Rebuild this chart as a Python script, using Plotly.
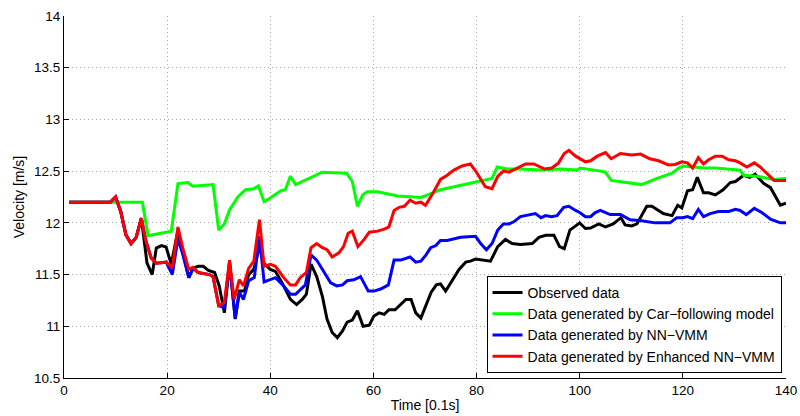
import plotly.graph_objects as go

# ---------------- data ----------------
t_obs = [1, 9, 10, 11, 12, 13, 14, 15, 16.1, 17.1, 17.9, 18.9, 19.8, 20.8, 22.1, 23, 24.2, 25, 26, 27, 28,
         29.2, 30.1, 31.1, 32.1, 33.2, 34, 35, 35.8, 36.8, 37.9, 38.8, 40, 41, 42.3, 43.9, 45.1, 46.2, 47,
         47.9, 49, 50.1, 51, 52, 53, 54, 54.9, 55.9, 56.9, 58, 59.2, 60.1, 61.1, 62.1, 63, 64.2, 65.2, 66.3,
         67.3, 68.2, 69.2, 70.2, 71.2, 72.2, 73, 74, 75.3, 76.6, 77.9, 78.8, 79.8, 81.1, 82.7, 84.1, 85.6,
         86.9, 88.5, 90.8, 92.1, 93.4, 95, 96.1, 97, 98.1, 100, 101.1, 102.1, 103.7, 105, 106.5, 108, 108.8,
         110.1, 111.1, 112, 113, 114, 115, 116.2, 117.9, 119, 119.8, 120.9, 121.9, 122.8, 124, 125, 126.3,
         127.8, 129.2, 130.2, 131.8, 133, 134, 135.7, 137, 138, 138.9, 140]
v_obs = [12.2, 12.2, 12.25, 12.11, 11.885, 11.8, 11.86, 12.045, 11.61, 11.5, 11.756, 11.78, 11.766, 11.6,
         11.93, 11.74, 11.47, 11.56, 11.58, 11.58, 11.54, 11.52, 11.39, 11.13, 11.61, 11.07, 11.34, 11.34,
         11.5, 11.55, 11.77, 11.61, 11.55, 11.53, 11.42, 11.26, 11.21, 11.26, 11.31, 11.6, 11.48, 11.29,
         11.07, 10.94, 10.89, 10.955, 11.04, 11.06, 11.15, 11.0, 11.01, 11.1, 11.13, 11.115, 11.16, 11.16,
         11.21, 11.26, 11.26, 11.13, 11.08, 11.2, 11.33, 11.4, 11.41, 11.34, 11.45, 11.55, 11.62, 11.63,
         11.65, 11.64, 11.63, 11.77, 11.84, 11.8, 11.79, 11.8, 11.86, 11.88, 11.88, 11.77, 11.75, 11.93,
         12.0, 11.945, 11.95, 11.99, 11.96, 11.99, 12.05, 11.98, 11.97, 11.99, 12.07, 12.16, 12.16, 12.13,
         12.09, 12.07, 12.17, 12.145, 12.31, 12.32, 12.44, 12.29, 12.29, 12.27, 12.32, 12.39, 12.4, 12.46,
         12.44, 12.47, 12.38, 12.34, 12.245, 12.17, 12.19]

t_car = [1, 15.2, 16.3, 20.8, 22.1, 24, 25, 28.9, 30, 31.1, 32.1, 33.7, 35.2, 36.8, 37.7, 38.8, 40, 42,
         42.9, 43.9, 44.9, 50.1, 54.8, 55.9, 56.9, 57.9, 58.8, 60.8, 64.7, 69.2, 70.5, 73, 83, 84, 85.9,
         88.5, 92.4, 96.3, 99.5, 100.1, 104, 105, 106.1, 112, 115, 117.9, 119.2, 120.1, 122.1, 124, 126.3,
         128.5, 131.1, 131.8, 134.4, 137.6, 140]
v_car = [12.2, 12.2, 11.875, 11.92, 12.38, 12.39, 12.355, 12.37, 11.93, 11.99, 12.125, 12.25, 12.32,
         12.33, 12.356, 12.205, 12.24, 12.31, 12.32, 12.45, 12.37, 12.49, 12.48, 12.4, 12.16, 12.27, 12.3,
         12.3, 12.26, 12.245, 12.27, 12.32, 12.43, 12.54, 12.52, 12.52, 12.51, 12.52, 12.51, 12.53, 12.5,
         12.49, 12.41, 12.37, 12.43, 12.48, 12.53, 12.55, 12.54, 12.53, 12.53, 12.52, 12.51, 12.46, 12.45,
         12.42, 12.43]

t_nn = [1, 9, 10, 11, 12, 13, 14, 15, 15.8, 16.9, 17.9, 19.8, 21, 22.1, 23, 24.2, 25, 26, 28.2, 28.9, 30,
        31.1, 32.1, 33.2, 34, 34.8, 35.8, 36.9, 37.9, 38.8, 41, 42.6, 43.9, 44.9, 46.8, 47.9, 49, 50.4,
        51.7, 52.9, 54, 54.9, 56.2, 57.5, 59, 60.1, 61.4, 62.9, 64, 65.3, 66.3, 67.1, 68.2, 69.2, 70.2,
        71.1, 72.1, 73, 74.3, 76.9, 79.8, 80.8, 81.9, 83, 84.1, 85.2, 86.3, 87.2, 88.5, 90.1, 91.4, 92.5,
        93.4, 94.5, 95.6, 96.9, 97.9, 99.2, 100, 101.1, 102.1, 103, 104, 105.9, 107.9, 109.8, 112, 114.6,
        117.5, 118.8, 120, 120.9, 121.9, 123, 124, 125.3, 126.9, 128.9, 130.2, 131.1, 132.3, 133.85, 135.3,
        137, 138.9, 140]
v_nn = [12.2, 12.2, 12.25, 12.11, 11.885, 11.8, 11.86, 12.045, 11.84, 11.66, 11.61, 11.62, 11.5, 11.85,
        11.7, 11.47, 11.56, 11.52, 11.5, 11.48, 11.2, 11.18, 11.62, 11.08, 11.33, 11.26, 11.44, 11.47,
        11.87, 11.43, 11.47, 11.39, 11.31, 11.31, 11.4, 11.69, 11.64, 11.53, 11.42, 11.39, 11.4, 11.44,
        11.45, 11.48, 11.34, 11.34, 11.36, 11.4, 11.64, 11.64, 11.66, 11.67, 11.62, 11.63, 11.69, 11.76,
        11.78, 11.83, 11.83, 11.86, 11.87, 11.8, 11.74, 11.8, 11.93, 11.99, 11.99, 12.01, 12.06, 12.08,
        12.09, 12.05, 12.07, 12.06, 12.07, 12.15, 12.16, 12.12, 12.1, 12.06, 12.06, 12.1, 12.12, 12.08,
        12.08, 12.03, 12.02, 12.0, 12.0, 12.05, 12.05, 12.06, 12.04, 12.13, 12.06, 12.09, 12.11, 12.11,
        12.13, 12.12, 12.08, 12.14, 12.1, 12.035, 12.0, 12.0]

t_enh = [1, 9, 10, 11, 12, 13, 14, 15, 15.8, 16.9, 17.9, 19.8, 21, 22.1, 23, 24.2, 25, 26, 28.2, 28.9, 30,
         31.1, 32.1, 33, 34, 34.8, 35.8, 36.8, 37.9, 38.8, 40, 41, 42.6, 43.9, 44.9, 45.8, 47, 47.9, 49,
         50.1, 51, 52, 53.3, 54.2, 55.1, 55.9, 57, 58.2, 59.2, 60.8, 62.1, 63, 64, 65, 66, 67.1, 68.2, 69.2,
         70.1, 71.7, 73, 74.3, 75.6, 77.2, 78.8, 80.1, 81.7, 83, 84.1, 85.2, 86.3, 87.9, 89.5, 91.1, 92.4,
         93.2, 94.6, 95.9, 97, 97.9, 99.2, 101.1, 102.1, 103.4, 105, 106.1, 107.9, 110.1, 111.8, 113.6,
         115.3, 117.2, 118.5, 119.8, 120.9, 121.9, 123, 124, 125, 126.3, 127.6, 128.9, 130.2, 131.1, 132.4,
         133.85, 135, 136.3, 137.7, 138.9, 140]
v_enh = [12.2, 12.2, 12.25, 12.11, 11.885, 11.8, 11.86, 12.045, 11.84, 11.66, 11.61, 11.62, 11.565, 11.96,
         11.76, 11.55, 11.57, 11.52, 11.5, 11.48, 11.2, 11.23, 11.64, 11.26, 11.45, 11.39, 11.56, 11.63,
         12.03, 11.58, 11.6, 11.58, 11.47, 11.4, 11.4, 11.47, 11.52, 11.76, 11.8, 11.76, 11.74, 11.67,
         11.71, 11.77, 11.9, 11.92, 11.77, 11.84, 11.91, 11.92, 11.94, 11.96, 12.12, 12.15, 12.16, 12.22,
         12.19, 12.2, 12.17, 12.3, 12.42, 12.46, 12.51, 12.55, 12.57, 12.48, 12.35, 12.33, 12.45, 12.5,
         12.49, 12.53, 12.57, 12.57, 12.54, 12.52, 12.53, 12.58, 12.67, 12.7, 12.645, 12.59, 12.6, 12.645,
         12.68, 12.62, 12.67, 12.655, 12.665, 12.62, 12.6, 12.56, 12.565, 12.59, 12.58, 12.53, 12.63, 12.57,
         12.61, 12.645, 12.645, 12.61, 12.6, 12.58, 12.54, 12.58, 12.54, 12.48, 12.41, 12.41, 12.41]

series_names = ["Observed data", "Data generated by Car\u2212following model",
                "Data generated by NN\u2212VMM", "Data generated by Enhanced NN\u2212VMM"]
series_colors = ["#000000", "#00ff00", "#0000ff", "#ff0000"]

x_ticks = [0, 20, 40, 60, 80, 100, 120, 140]
y_ticks = [10.5, 11, 11.5, 12, 12.5, 13, 13.5, 14]
y_tick_text = ["10.5", "11", "11.5", "12", "12.5", "13", "13.5", "14"]

# ---------------- figure ----------------
FONT = "Liberation Sans, Arial, Helvetica, sans-serif"
fig = go.Figure()
for tx, vy, name, col in zip([t_obs, t_car, t_nn, t_enh], [v_obs, v_car, v_nn, v_enh],
                             series_names, series_colors):
    fig.add_trace(go.Scatter(x=tx, y=vy, mode="lines", name=name,
                             line=dict(color=col, width=3)))

axis_common = dict(showline=True, linecolor="black", linewidth=1, mirror=False,
                   ticks="inside", ticklen=5, tickcolor="black", automargin=False,
                   showgrid=True, gridcolor="#a8a8a8", griddash="1px,3px", gridwidth=1,
                   zeroline=False, tickfont=dict(family=FONT, size=13.5, color="black"))

fig.update_xaxes(range=[0, 140], tickvals=x_ticks,
                 title=dict(text="Time [0.1s]", font=dict(family=FONT, size=14, color="black"), standoff=2),
                 **axis_common)
fig.update_yaxes(range=[10.5, 14], tickvals=y_ticks, ticktext=y_tick_text,
                 title=dict(text="Velocity [m/s]", font=dict(family=FONT, size=14, color="black"), standoff=6),
                 **axis_common)

fig.update_layout(
    width=800, height=416,
    margin=dict(l=63.5, r=13.5, t=15.7, b=37.7),
    paper_bgcolor="white", plot_bgcolor="white",
    font=dict(family=FONT, size=14, color="black"),
    showlegend=True,
    legend=dict(x=0.9938, y=0.0138, xanchor="right", yanchor="bottom",
                bgcolor="white", bordercolor="black", borderwidth=1,
                font=dict(family=FONT, size=14, color="black"),
                tracegroupgap=0, itemwidth=30),
)

fig.write_html("out.html",
               config={"displayModeBar": False},
               post_script="document.body.style.margin='0';document.body.style.padding='0';"
                           "document.body.style.overflow='hidden';")
